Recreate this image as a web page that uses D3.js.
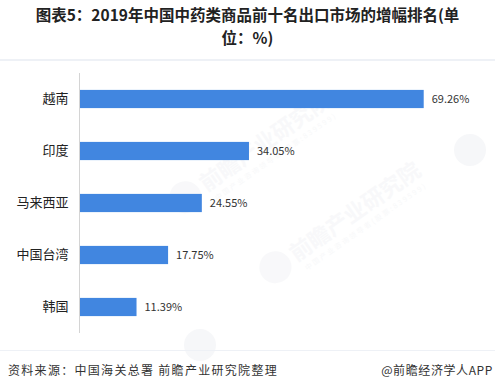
<!DOCTYPE html>
<html>
<head>
<meta charset="utf-8">
<script src="https://cdn.jsdelivr.net/npm/d3@7"></script>
<style>
  body { margin: 0; background: #fff; }
  svg { display: block; font-family: "Noto Sans CJK SC", "Microsoft YaHei", sans-serif; }
</style>
</head>
<body>
<svg id="chart" width="495" height="390"></svg>
<script>
// chart data
var titleLines = ["图表5：2019年中国中药类商品前十名出口市场的增幅排名(单", "位：%)"];
var markets = ["越南", "印度", "马来西亚", "中国台湾", "韩国"];
var growth = [69.26, 34.05, 24.55, 17.75, 11.39];
var sourceText = "资料来源：中国海关总署 前瞻产业研究院整理";
var brandText = "@前瞻经济学人APP";

var svg = d3.select("#chart");
var W = 495, H = 390;

svg.append("rect").attr("width", W).attr("height", H).attr("fill", "#fff");

// faint watermarks, kept clear of the labels
var marks = [
  { x: 300, y: 250 }, { x: 210, y: 180 }
];
marks.forEach(function (m) {
  var g = svg.append("g")
    .attr("transform", "translate(" + m.x + "," + m.y + ") rotate(-35)")
    .attr("opacity", 0.4);
  g.append("circle").attr("cx", -30).attr("cy", 0).attr("r", 16).attr("fill", "#eef0f3");
  g.append("text").attr("x", -10).attr("y", 8)
    .attr("font-size", 22).attr("font-weight", "bold").attr("fill", "#eef0f3")
    .text("前瞻产业研究院");
  g.append("text").attr("x", -6).attr("y", 21)
    .attr("font-size", 7).attr("fill", "#eef0f3").attr("letter-spacing", 2)
    .text("中国产业咨询领导者(股票:839599)");
});
// stray logos near the edges
[{ x: 470, y: 150 }, { x: 200, y: 345 }].forEach(function (m) {
  svg.append("circle").attr("cx", m.x).attr("cy", m.y).attr("r", 16)
    .attr("fill", "#eef0f3").attr("opacity", 0.5);
});

// title, two lines
svg.append("g").selectAll("text")
  .data(titleLines)
  .enter()
  .append("text")
  .attr("x", W / 2)
  .attr("y", function (d, i) { return 21 + i * 22.5; })
  .attr("text-anchor", "middle")
  .attr("font-size", 15.5)
  .attr("font-weight", "bold")
  .attr("fill", "#222")
  .text(function (d) { return d; });

svg.append("line")
  .attr("x1", 0).attr("x2", W).attr("y1", 60).attr("y2", 60)
  .attr("stroke", "#eef1f6").attr("stroke-width", 2);

// scales
var x = d3.scaleLinear().domain([0, 80]).range([80, 477]);
var y = d3.scaleBand().domain(markets).range([73, 333]).paddingInner(0.65).paddingOuter(0.325);

// y axis
var yAxis = svg.append("g")
  .attr("transform", "translate(79.5,0)")
  .call(d3.axisLeft(y).tickSize(0).tickPadding(11));
yAxis.select(".domain").attr("stroke", "#d4d4d4").attr("d", "M0,73V333");
yAxis.selectAll("text")
  .attr("font-family", undefined)
  .attr("font-size", 13)
  .attr("fill", "#222");
yAxis.attr("font-family", undefined);

// bars
svg.selectAll("rect.bar")
  .data(growth)
  .enter()
  .append("rect")
  .attr("class", "bar")
  .attr("x", x(0))
  .attr("y", function (d, i) { return y(markets[i]); })
  .attr("width", function (d) { return x(d) - x(0); })
  .attr("height", y.bandwidth())
  .attr("fill", "#4186e0");

// value labels
svg.selectAll("text.val")
  .data(growth)
  .enter()
  .append("text")
  .attr("class", "val")
  .attr("x", function (d) { return x(d) + 8; })
  .attr("y", function (d, i) { return y(markets[i]) + y.bandwidth() / 2; })
  .attr("dy", "0.35em")
  .attr("font-size", 11)
  .attr("fill", "#333")
  .text(function (d) { return d.toFixed(2) + "%"; });

// footer
svg.append("line")
  .attr("x1", 0).attr("x2", W).attr("y1", 350.5).attr("y2", 350.5)
  .attr("stroke", "#eef1f6").attr("stroke-width", 1);
svg.append("text")
  .attr("x", 8).attr("y", 375)
  .attr("font-size", 12).attr("fill", "#333").attr("letter-spacing", 1.3)
  .text(sourceText);
svg.append("text")
  .attr("x", 493).attr("y", 375)
  .attr("text-anchor", "end")
  .attr("font-size", 12).attr("fill", "#333").attr("letter-spacing", 0.6)
  .text(brandText);
</script>
</body>
</html>
